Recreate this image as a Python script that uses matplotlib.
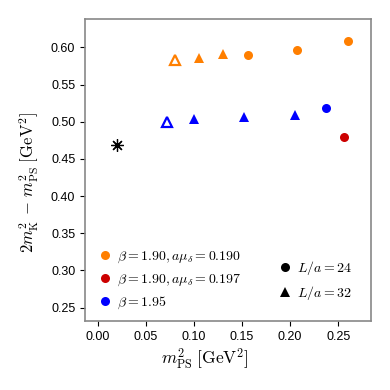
import numpy as np
import matplotlib
matplotlib.use("Agg")
import matplotlib.pyplot as plt
from matplotlib.lines import Line2D

plt.rcParams['font.family'] = ['Liberation Sans', 'DejaVu Sans']
plt.rcParams['mathtext.fontset'] = 'cm'

# beta = 1.90, a mu_delta = 0.190 (orange)
or_tri_open_x = [0.0806]
or_tri_open_y = [0.5835]
or_tri_x = [0.105, 0.1307]
or_tri_y = [0.586, 0.591]
or_circ_x = [0.1567, 0.2068, 0.2604]
or_circ_y = [0.590, 0.5965, 0.608]
# beta = 1.90, a mu_delta = 0.197 (red)
red_circ_x = [0.2562]
red_circ_y = [0.4795]
# beta = 1.95 (blue)
bl_tri_open_x = [0.072]
bl_tri_open_y = [0.4995]
bl_tri_x = [0.1003, 0.152, 0.2054]
bl_tri_y = [0.504, 0.506, 0.5095]
bl_circ_x = [0.2372]
bl_circ_y = [0.519]
# physical point
phys_x = [0.0201]
phys_y = [0.4688]

c_or = '#ff7f00'
c_red = '#cc0000'
c_bl = '#0000ff'

fig = plt.figure(figsize=(3.9, 3.9), dpi=100)
ax = fig.add_axes([0.218, 0.177, 0.733, 0.774])

ms = 6.5
ax.plot(or_tri_open_x, or_tri_open_y, '^', mfc='none', mec=c_or, mew=1.6, ms=ms)
ax.plot(or_tri_x, or_tri_y, '^', color=c_or, ms=ms, mew=0)
ax.plot(or_circ_x, or_circ_y, 'o', color=c_or, ms=ms, mew=0)
ax.plot(red_circ_x, red_circ_y, 'o', color=c_red, ms=ms, mew=0)
ax.plot(bl_tri_open_x, bl_tri_open_y, '^', mfc='none', mec=c_bl, mew=1.6, ms=ms)
ax.plot(bl_tri_x, bl_tri_y, '^', color=c_bl, ms=ms, mew=0)
ax.plot(bl_circ_x, bl_circ_y, 'o', color=c_bl, ms=ms, mew=0)
ax.plot(phys_x, phys_y, marker=(8, 2, 0), color='black', ms=9, mew=0.9, ls='none')

ax.set_xlim(-0.013, 0.284)
ax.set_ylim(0.232, 0.638)
ax.set_xticks([0.0, 0.05, 0.10, 0.15, 0.20, 0.25])
ax.set_yticks([0.25, 0.30, 0.35, 0.40, 0.45, 0.50, 0.55, 0.60])
ax.xaxis.set_major_formatter(matplotlib.ticker.FormatStrFormatter('%.2f'))
ax.yaxis.set_major_formatter(matplotlib.ticker.FormatStrFormatter('%.2f'))
ax.tick_params(labelsize=9, length=3.5, width=0.8)
for s in ax.spines.values():
    s.set_color('#888888')
    s.set_linewidth(1.2)

ax.set_xlabel(r'$m_{\rm PS}^2\;[\mathrm{GeV}^2]$', fontsize=12.5)
ax.set_ylabel(r'$2m_{\rm K}^2\,-\,m_{\rm PS}^2\;[\mathrm{GeV}^2]$', fontsize=12)
ax.xaxis.set_label_coords(0.42, -0.082)
ax.yaxis.set_label_coords(-0.155, 0.457)

h1 = [Line2D([], [], marker='o', ls='none', color=c, ms=ms, mew=0) for c in (c_or, c_red, c_bl)]
leg1 = ax.legend(h1, [r'$\beta=1.90, a\mu_\delta=0.190$', r'$\beta=1.90, a\mu_\delta=0.197$',
                      r'$\beta=1.95$'],
                 loc='lower left', frameon=False, fontsize=10, handletextpad=0.1,
                 handlelength=1.5, borderaxespad=0.3, labelspacing=0.5)
ax.add_artist(leg1)
h2 = [Line2D([], [], marker=m, ls='none', color='black', ms=ms, mew=0) for m in ('o', '^')]
ax.legend(h2, [r'$L/a=24$', r'$L/a=32$'], loc='lower right', frameon=False,
          fontsize=10, handletextpad=0.1, handlelength=1.5, borderaxespad=1.0,
          labelspacing=0.5)

fig.savefig('out.png', dpi=100)
